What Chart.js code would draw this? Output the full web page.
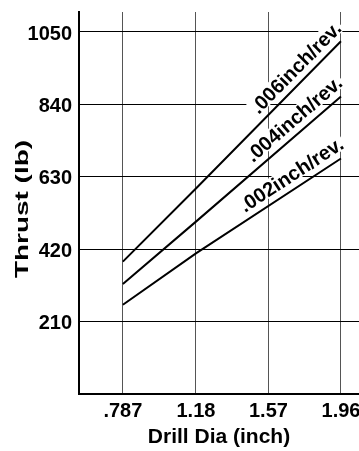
<!DOCTYPE html>
<html><head><meta charset="utf-8">
<script src="https://cdn.jsdelivr.net/npm/chart.js@4"></script>
<style>html,body{margin:0;padding:0;background:#fff}canvas{display:block}</style>
</head><body>
<canvas id="c" width="359" height="451"></canvas>
<script>
const drillDia = [0.787, 1.18, 1.96];
const thrust006 = [384, 596, 1023];
const thrust004 = [319, 500, 863];
const thrust002 = [259, 408, 683];
const seriesLabels = ['.006inch/rev.', '.004inch/rev.', '.002inch/rev.'];
const xTickValues = [0.787, 1.18, 1.57, 1.96];
const xTickLabels = ['.787', '1.18', '1.57', '1.96'];
const yTickValues = [210, 420, 630, 840, 1050];
const yTickLabels = ['210', '420', '630', '840', '1050'];
const xTitle = 'Drill Dia (inch)';
const yTitle = 'Thrust (lb)';
const FONT = '"Liberation Sans", Arial, sans-serif';

const toPts = ys => ys.map((y, i) => ({x: drillDia[i], y}));

function labelFrame(chart, i) {
  const pts = chart.getDatasetMeta(i).data;
  const p1 = pts[pts.length - 1], p0 = pts[pts.length - 2];
  return {x: p1.x, y: p1.y, ang: Math.atan2(p1.y - p0.y, p1.x - p0.x)};
}
const AX = 9.5, AY = -7;
const lineLabels = {
  id: 'lineLabels',
  beforeDatasetsDraw(chart) {
    const ctx = chart.ctx;
    chart.data.datasets.forEach((ds, i) => {
      const f = labelFrame(chart, i);
      ctx.save();
      ctx.translate(f.x, f.y);
      ctx.rotate(f.ang);
      ctx.font = 'bold 20px ' + FONT;
      const w = ctx.measureText(ds.label).width;
      ctx.fillStyle = '#fff';
      ctx.fillRect(AX - w - 3, AY - 16, w + 5, 17);
      ctx.restore();
    });
  },
  afterDatasetsDraw(chart) {
    const ctx = chart.ctx;
    chart.data.datasets.forEach((ds, i) => {
      const f = labelFrame(chart, i);
      ctx.save();
      ctx.translate(f.x, f.y);
      ctx.rotate(f.ang);
      ctx.font = 'bold 20px ' + FONT;
      ctx.fillStyle = '#000';
      ctx.textAlign = 'right';
      ctx.textBaseline = 'alphabetic';
      ctx.fillText(ds.label, AX, AY);
      ctx.restore();
    });
  }
};
const yTitlePlugin = {
  id: 'yTitle',
  afterDraw(chart) {
    const ctx = chart.ctx;
    const a = chart.chartArea;
    ctx.save();
    ctx.translate(28, (a.top + a.bottom) / 2 + 6);
    ctx.rotate(-Math.PI / 2);
    ctx.scale(1.47, 1);
    ctx.font = 'bold 19px ' + FONT;
    ctx.fillStyle = '#000';
    ctx.textAlign = 'center';
    ctx.textBaseline = 'alphabetic';
    ctx.fillText(yTitle, 0, 0);
    ctx.restore();
  }
};

new Chart(document.getElementById('c'), {
  type: 'line',
  data: {datasets: [
    {label: seriesLabels[0], data: toPts(thrust006), borderColor: '#000'},
    {label: seriesLabels[1], data: toPts(thrust004), borderColor: '#000'},
    {label: seriesLabels[2], data: toPts(thrust002), borderColor: '#000'}
  ]},
  options: {
    responsive: false, animation: false, devicePixelRatio: 1,
    layout: {padding: {top: 12, right: 0, left: 0, bottom: 0}},
    plugins: {legend: {display: false}, tooltip: {enabled: false}},
    elements: {line: {borderWidth: 2, tension: 0}, point: {radius: 0}},
    scales: {
      x: {
        type: 'linear', min: 0.551, max: 2.057,
        afterBuildTicks: s => { s.ticks = xTickValues.map(v => ({value: v})); },
        afterFit: s => { s.height = 57; s.paddingLeft = 0; s.paddingRight = 0; },
        grid: {color: '#555', lineWidth: 1, drawTicks: false},
        border: {display: true, color: '#000', width: 2},
        ticks: {color: '#000', font: {family: FONT, size: 20, weight: 'bold'}, padding: 5,
                maxRotation: 0, autoSkip: false, callback: (v, i) => xTickLabels[i]},
        title: {display: true, text: xTitle, color: '#000',
                font: {family: FONT, size: 21, weight: 'bold'}, padding: {top: 0, bottom: 1}}
      },
      y: {
        type: 'linear', min: 0, max: 1108,
        afterBuildTicks: s => { s.ticks = yTickValues.map(v => ({value: v})); },
        afterFit: s => { s.width = 79; s.paddingTop = 0; s.paddingBottom = 0; },
        grid: {color: '#000', lineWidth: 1, drawTicks: false},
        border: {display: true, color: '#000', width: 2},
        ticks: {color: '#000', font: {family: FONT, size: 20, weight: 'bold'}, padding: 7,
                labelOffset: 2, autoSkip: false, callback: (v, i) => yTickLabels[i]}
      }
    }
  },
  plugins: [lineLabels, yTitlePlugin]
});
</script>
</body></html>
